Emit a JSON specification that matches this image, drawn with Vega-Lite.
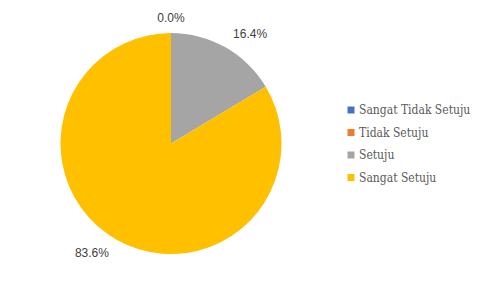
{
  "$schema": "https://vega.github.io/schema/vega-lite/v6.json",
  "autosize": {"type": "fit", "contains": "padding"},
  "width": 481,
  "height": 289,
  "padding": {"left": 0, "top": 0, "right": 139, "bottom": 2},
  "background": "white",
  "config": {"view": {"stroke": null}},
  "data": {
    "values": [
      {"kategori": "Sangat Tidak Setuju", "idx": 1, "nilai": 0.0},
      {"kategori": "Tidak Setuju", "idx": 2, "nilai": 0.0},
      {"kategori": "Setuju", "idx": 3, "nilai": 0.164},
      {"kategori": "Sangat Setuju", "idx": 4, "nilai": 0.836}
    ]
  },
  "encoding": {
    "theta": {"field": "nilai", "type": "quantitative", "stack": true},
    "order": {"field": "idx", "type": "quantitative"}
  },
  "layer": [
    {
      "mark": {"type": "arc", "radius": 110.5},
      "encoding": {
        "color": {
          "field": "kategori",
          "type": "nominal",
          "sort": ["Sangat Tidak Setuju", "Tidak Setuju", "Setuju", "Sangat Setuju"],
          "scale": {
            "domain": ["Sangat Tidak Setuju", "Tidak Setuju", "Setuju", "Sangat Setuju"],
            "range": ["#4472C4", "#ED7D31", "#A5A5A5", "#FFC000"]
          },
          "legend": {
            "title": null,
            "orient": "none",
            "legendX": 345,
            "legendY": 104,
            "padding": 0,
            "symbolType": "square",
            "symbolSize": 49,
            "symbolStrokeWidth": 0,
            "labelFont": "DejaVu Serif Condensed",
            "labelFontSize": 12,
            "labelColor": "#595959",
            "labelOffset": 2,
            "rowPadding": 10.5,
            "labelLimit": 200
          }
        }
      }
    },
    {
      "mark": {"type": "text", "radius": 126, "align": "center", "baseline": "middle", "font": "Liberation Sans", "fontSize": 12, "color": "#404040"},
      "encoding": {
        "text": {"condition": {"test": "datum.idx == 1", "field": "nilai", "format": ".1%"}, "value": ""}
      }
    },
    {
      "mark": {"type": "text", "radius": 126, "align": "left", "baseline": "middle", "font": "Liberation Sans", "fontSize": 12, "color": "#404040"},
      "encoding": {
        "text": {"condition": {"test": "datum.idx == 3", "field": "nilai", "format": ".1%"}, "value": ""}
      }
    },
    {
      "mark": {"type": "text", "radius": 126, "align": "right", "baseline": "middle", "font": "Liberation Sans", "fontSize": 12, "color": "#404040"},
      "encoding": {
        "text": {"condition": {"test": "datum.idx == 4", "field": "nilai", "format": ".1%"}, "value": ""}
      }
    }
  ]
}
